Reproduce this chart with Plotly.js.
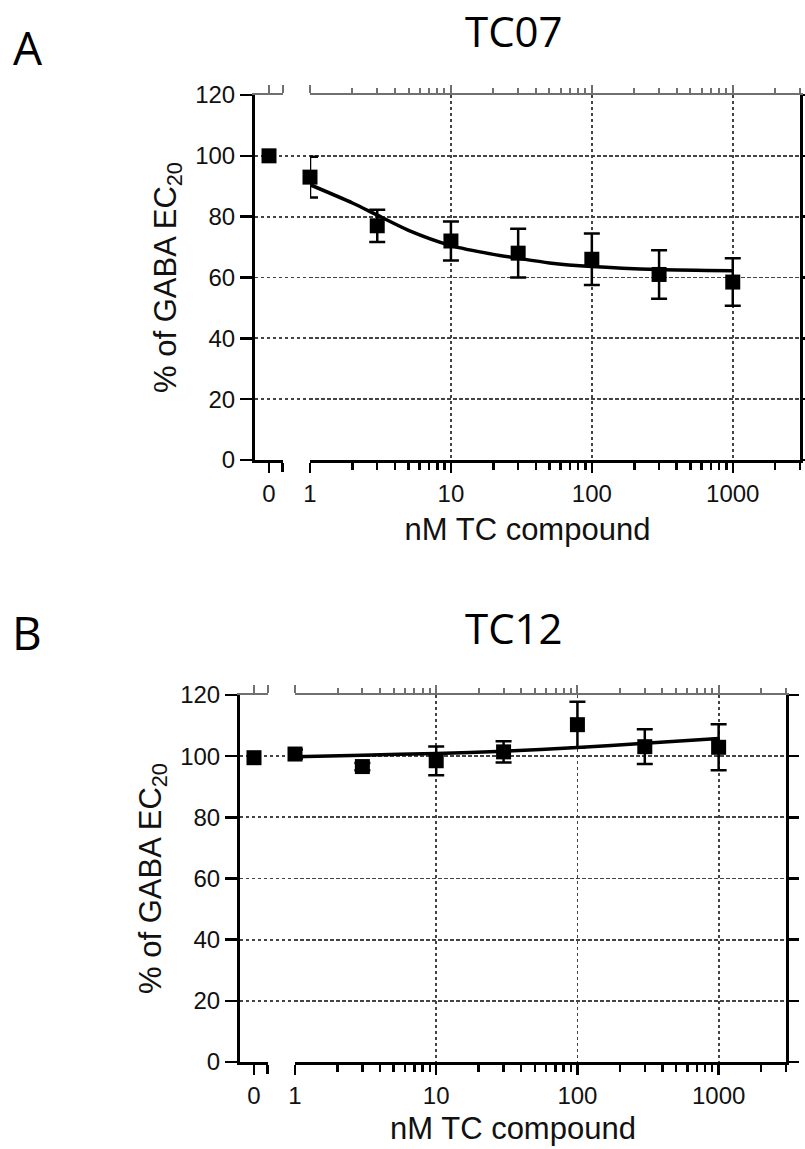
<!DOCTYPE html>
<html><head><meta charset="utf-8">
<script src="https://cdn.plot.ly/plotly-3.0.1.min.js"></script>
<style>html,body{margin:0;padding:0;background:#fff}</style>
</head><body><div id="chart" style="width:805px;height:1149px"></div>
<script>
// ---------- data ----------
const concentrations = [1, 3, 10, 30, 100, 300, 1000];   // nM
const zeroDose = [0];

const tc07Mean = [93, 77, 72, 68, 66, 61, 58.5];
const tc07Err = [6.7, 5.3, 6.4, 8, 8.5, 8, 7.8];
const tc07ZeroMean = [100];
const tc07FitX = [1, 2, 3, 5, 10, 20, 30, 50, 100, 300, 1000];
const tc07FitY = [90.5, 84.5, 80.5, 75.5, 70.5, 67.6, 66.3, 64.8, 63.6, 62.6, 62.2];

const tc12Mean = [100.7, 96.6, 98.5, 101.4, 110.3, 103.1, 102.9];
const tc12Err = [1.5, 1.2, 4.7, 3.5, 7.5, 5.7, 7.5];
const tc12ZeroMean = [99.5];
const tc12FitX = [1, 3, 10, 30, 100, 300, 1000];
const tc12FitY = [99.8, 100.3, 100.9, 101.6, 102.8, 104.2, 105.8];

const yTickVals = [0, 20, 40, 60, 80, 100, 120];
const yGridVals = [20, 40, 60, 80, 100];
const logTickVals = [1, 10, 100, 1000];
const logTickText = ['1', '10', '100', '1000'];
const zeroTickVals = [0];
const zeroTickText = ['0'];
const zeroBreakVals = [0.98];
const panelTitles = ['TC07', 'TC12'];
const panelLetters = ['A', 'B'];
const xTitle = 'nM TC compound';
const yTitle = '% of GABA EC<sub>20</sub>';

// ---------- styling / geometry ----------
const W = 805, H = 1149;
const fx = p => p / W, fy = p => 1 - p / H;
const FONT = 'Liberation Sans, Arial, Helvetica, sans-serif';
const TFONT = 'Open Sans, Noto Sans, sans-serif';
const TXT = '#111';
const GRID = '#444';
const TOPC = '#707070';
const logRange = [0, Math.log10(3000)];
const zeroRange = [-1, 1];
const yRange = [0, 120];
const tickFont = {family: FONT, size: 24, color: TXT};

const layout = {
  width: W, height: H,
  margin: {l: 0, r: 0, t: 0, b: 0},
  paper_bgcolor: '#fff', plot_bgcolor: 'rgba(0,0,0,0)',
  showlegend: false,
  annotations: []
};
const traces = [];

function key(id) { return id.replace('x', 'xaxis').replace('y', 'yaxis'); }
function dummy(xa, ya) {
  return {type: 'scatter', x: [null], y: [null], xaxis: xa, yaxis: ya, mode: 'markers',
          marker: {opacity: 0}, hoverinfo: 'skip', showlegend: false};
}

function panel(ids, g, d) {
  const [gx, zx, lx, zt, lt, yl, yr] = ids;
  layout[key(gx)] = {
    domain: [fx(g.left), fx(g.right)], anchor: yl, range: [0, 1], type: 'linear',
    showline: false, showgrid: false, zeroline: false, ticks: '', showticklabels: false,
    title: {text: xTitle, font: {family: FONT, size: 31, color: TXT}, standoff: g.xStandoff}
  };
  layout[key(zx)] = {
    domain: [fx(g.left), fx(g.zeroEnd)], anchor: yl, range: zeroRange, type: 'linear',
    showline: true, linecolor: '#000', linewidth: 3,
    ticks: 'outside', ticklen: 10, tickwidth: 2.5, tickcolor: '#000',
    tickmode: 'array', tickvals: zeroTickVals, ticktext: zeroTickText, tickfont: tickFont,
    showgrid: false, zeroline: false,
    minor: {tickmode: 'array', tickvals: zeroBreakVals, ticks: 'outside', ticklen: 9,
            tickwidth: 2.5, tickcolor: '#000', showgrid: false}
  };
  layout[key(lx)] = {
    domain: [fx(g.logStart), fx(g.right)], anchor: yl, type: 'log', range: logRange,
    showline: true, linecolor: '#000', linewidth: 3,
    ticks: 'outside', ticklen: 10, tickwidth: 2.5, tickcolor: '#000',
    tickmode: 'array', tickvals: logTickVals, ticktext: logTickText, tickfont: tickFont,
    showgrid: true, gridcolor: GRID, gridwidth: 1.8, griddash: 'dot', zeroline: false,
    minor: {ticks: 'outside', ticklen: 7, tickwidth: 2.5, tickcolor: '#000', dtick: 'D1', showgrid: false}
  };
  layout[key(zt)] = {
    overlaying: zx, side: 'top', anchor: yl,
    range: zeroRange, type: 'linear',
    showline: true, linecolor: TOPC, linewidth: 2.5,
    ticks: 'outside', ticklen: 8, tickwidth: 2, tickcolor: TOPC,
    tickmode: 'array', tickvals: zeroTickVals, showticklabels: false, showgrid: false, zeroline: false,
    minor: {tickmode: 'array', tickvals: zeroBreakVals, ticks: 'outside', ticklen: 8,
            tickwidth: 2, tickcolor: TOPC, showgrid: false}
  };
  layout[key(lt)] = {
    overlaying: lx, side: 'top', anchor: yl,
    type: 'log', range: logRange,
    showline: true, linecolor: TOPC, linewidth: 2.5,
    ticks: 'outside', ticklen: 8, tickwidth: 2, tickcolor: TOPC,
    tickmode: 'array', tickvals: logTickVals, showticklabels: false, showgrid: false, zeroline: false,
    minor: {ticks: 'outside', ticklen: 5, tickwidth: 2, tickcolor: TOPC, dtick: 'D1', showgrid: false}
  };
  layout[key(yl)] = {
    domain: [fy(g.bottom), fy(g.top)], anchor: gx, range: yRange,
    showline: true, linecolor: '#000', linewidth: 3,
    ticks: 'outside', ticklen: 12, tickwidth: 2.5, tickcolor: '#000',
    tickmode: 'array', tickvals: yTickVals, tickfont: tickFont,
    showgrid: false, zeroline: false,
    minor: {tickmode: 'array', tickvals: yGridVals, ticks: '', showgrid: true,
            gridcolor: GRID, griddash: 'dot', gridwidth: 1.8},
    title: {text: yTitle, font: {family: FONT, size: 31, color: TXT}, standoff: g.yStandoff}
  };
  layout[key(yr)] = {
    overlaying: yl, side: 'right', anchor: lx, range: yRange,
    showline: true, linecolor: '#000', linewidth: 3,
    ticks: 'outside', ticklen: 10, tickwidth: 2.5, tickcolor: '#000',
    tickmode: 'array', tickvals: yTickVals, showticklabels: false, showgrid: false, zeroline: false
  };

  const mk = {symbol: 'square', size: 15, color: '#000'};
  traces.push(dummy(gx, yl));
  traces.push(dummy(zt, yl));
  traces.push(dummy(lt, yl));
  traces.push(dummy(lx, yr));
  traces.push({type: 'scatter', x: d.fitX, y: d.fitY, xaxis: lx, yaxis: yl, mode: 'lines',
               line: {color: '#000', width: 3.5, shape: 'spline', smoothing: 0.7}, hoverinfo: 'skip'});
  traces.push({type: 'scatter', x: concentrations, y: d.mean, xaxis: lx, yaxis: yl, mode: 'markers',
               marker: mk, cliponaxis: false,
               error_y: {type: 'data', array: d.err, visible: true, color: '#000', thickness: 2.5, width: 8}});
  traces.push({type: 'scatter', x: zeroDose, y: d.zero, xaxis: zx, yaxis: yl, mode: 'markers',
               marker: mk, cliponaxis: false});

  layout.annotations.push({xref: 'paper', yref: 'paper', x: fx(g.letterX), y: fy(g.letterY),
    text: d.letter, showarrow: false, xanchor: 'center', yanchor: 'middle',
    font: {family: TFONT, size: 46, color: '#000'}});
  layout.annotations.push({xref: 'paper', yref: 'paper', x: fx(g.titleX), y: fy(g.titleY),
    text: d.title, showarrow: false, xanchor: 'center', yanchor: 'middle',
    font: {family: TFONT, size: 42, color: '#000'}});
}

panel(['x', 'x2', 'x3', 'x4', 'x5', 'y', 'y2'],
  {left: 255, zeroEnd: 283, logStart: 310, right: 800, top: 95, bottom: 460,
   xStandoff: 58, yStandoff: 10, letterX: 27.5, letterY: 47, titleX: 514, titleY: 31},
  {mean: tc07Mean, err: tc07Err, zero: tc07ZeroMean, fitX: tc07FitX, fitY: tc07FitY,
   letter: panelLetters[0], title: panelTitles[0]});

panel(['x6', 'x7', 'x8', 'x9', 'x10', 'y3', 'y4'],
  {left: 240, zeroEnd: 268, logStart: 295, right: 786, top: 695, bottom: 1062,
   xStandoff: 55, yStandoff: 10, letterX: 27, letterY: 632, titleX: 514, titleY: 627},
  {mean: tc12Mean, err: tc12Err, zero: tc12ZeroMean, fitX: tc12FitX, fitY: tc12FitY,
   letter: panelLetters[1], title: panelTitles[1]});

Plotly.newPlot('chart', traces, layout, {displayModeBar: false, staticPlot: true});
</script>
</body></html>
